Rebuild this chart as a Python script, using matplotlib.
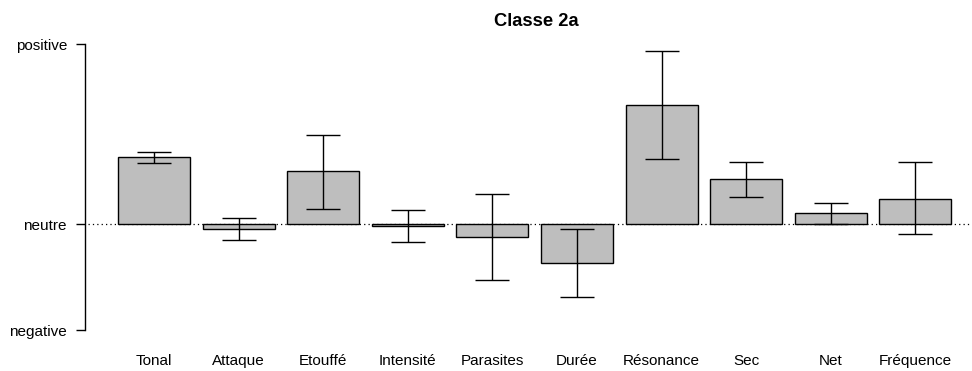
import matplotlib
matplotlib.use("Agg")
import matplotlib.pyplot as plt
import numpy as np

categories = ["Tonal", "Attaque", "Etouffé", "Intensité", "Parasites", "Durée",
              "Résonance", "Sec", "Net", "Fréquence"]
means = [0.372, -0.028, 0.294, -0.011, -0.072, -0.217, 0.661, 0.250, 0.061, 0.141]
err_low = [0.339, -0.089, 0.085, -0.100, -0.308, -0.402, 0.364, 0.152, 0.000, -0.056]
err_high = [0.403, 0.037, 0.498, 0.081, 0.168, -0.024, 0.964, 0.348, 0.120, 0.344]
ytick_vals = [-0.59, 0.0, 1.0]
ytick_labels = ["negative", "neutre", "positive"]
title = "Classe 2a"

plt.rcParams['font.family'] = ['Liberation Sans', 'DejaVu Sans']

W, H = 972, 371
fig = plt.figure(figsize=(W / 100, H / 100), dpi=100)

# pixel geometry
zero_px = 224.3
px_per_unit = 180.0
ylo, yhi = -0.62, 1.05
top_px = zero_px - yhi * px_per_unit
bot_px = zero_px - ylo * px_per_unit
left_px, right_px = 85, 970
ax = fig.add_axes([left_px / W, 1 - bot_px / H, (right_px - left_px) / W, (bot_px - top_px) / H])

x = np.arange(len(categories))
means_a = np.array(means)
lower = np.minimum(err_low, err_high)
upper = np.maximum(err_low, err_high)
yerr = np.vstack([means_a - lower, upper - means_a])

ax.plot([(88 - 154) / 84.6, (right_px - 154) / 84.6], [0, 0], color="black", lw=0.9,
        ls=(0, (1, 2.5)), zorder=0)
ax.bar(x, means, width=0.85, color="#BEBEBE", edgecolor="black", linewidth=1.0, zorder=2)
ax.errorbar(x, means, yerr=yerr, fmt="none", ecolor="black", elinewidth=1.0,
            capsize=12.5, capthick=1.0, zorder=3)

spacing = 84.6
ax.set_xlim((left_px - 154) / spacing, (right_px - 154) / spacing)
ax.set_ylim(ylo, yhi)

for s in ["top", "right", "bottom"]:
    ax.spines[s].set_visible(False)
ax.spines["left"].set_bounds(ytick_vals[0], ytick_vals[-1])
ax.spines["left"].set_linewidth(1.0)

ax.set_yticks(ytick_vals, ytick_labels)
ax.tick_params(axis="y", length=6.5, width=1.0, pad=6.5, labelsize=11)
ax.set_xticks(x, categories)
ax.tick_params(axis="x", length=0, pad=13, labelsize=11)

fig.text(536 / W, 1 - 22 / H, title, ha="center", va="center", fontsize=13.2, fontweight="bold")

fig.savefig("out.png", dpi=100)
